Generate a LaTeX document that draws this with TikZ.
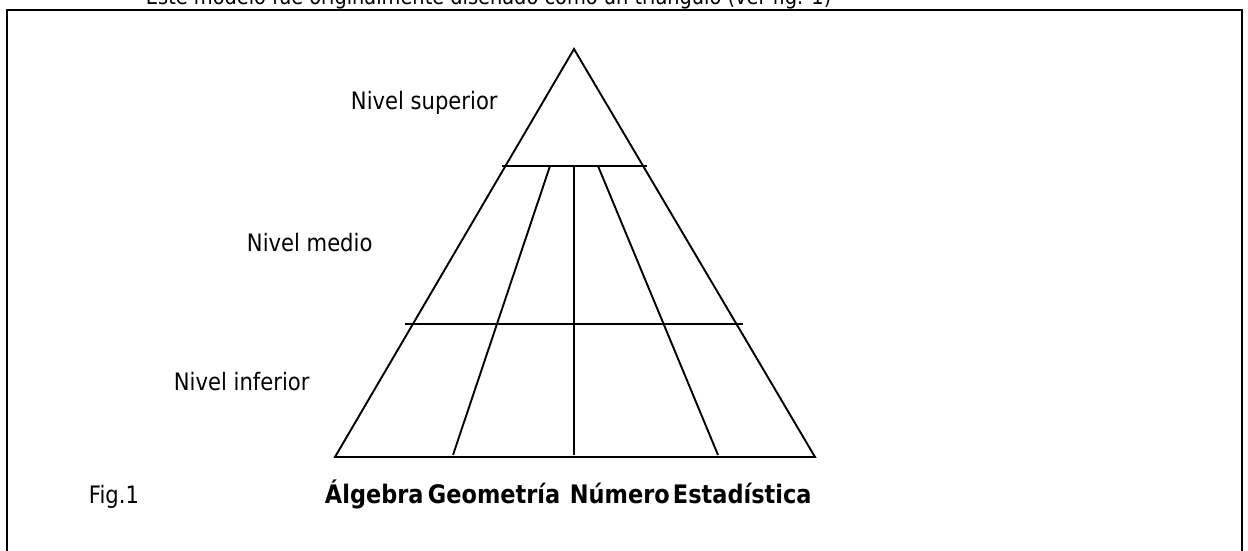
\documentclass[tikz,border=0pt]{standalone}
\usepackage{fontspec}
\setmainfont{DejaVu Sans}[FakeStretch=0.88]
\usetikzlibrary{calc}

\tikzset{
  nivel/.style={anchor=west,inner sep=0pt,font=\fontsize{24}{28}\selectfont},
  rama/.style={anchor=base west,inner sep=0pt,font=\fontsize{25.5}{30}\selectfont\bfseries}
}

\begin{document}
\begin{tikzpicture}[x=1pt,y=1pt,line width=1.9pt]
\useasboundingbox (0,0) rectangle (1248,551);
\node[anchor=base west,inner sep=0pt,font=\fontsize{22}{26}\selectfont] (intro) at (145,546)
  {Este modelo fue originalmente diseñado como un triángulo (ver fig. 1)};
\draw (7,-10) rectangle (1242,541);
% triangulo
\draw (574,502) coordinate (apex) -- (815,94) coordinate (br) --
(335,94) coordinate (bl) -- cycle;
\draw (502,385) coordinate (s1) -- (647,385) coordinate (s2);
\draw (405,227) coordinate (m1) -- (743,227) coordinate (m2);
% ramas
\draw (550,385) coordinate (a1) -- (453,96) coordinate (a2);
\draw (574,385) coordinate (c1) -- (574,96) coordinate (c2);
\draw (598,385) coordinate (e1) -- (718,96) coordinate (e2);
% textos
\node[nivel] (sup) at (350,448) {Nivel superior};
\node[nivel] (med) at (246,308) {Nivel medio};
\node[nivel] (inf) at (173,169) {Nivel inferior};
\node[nivel,anchor=base west] (fig) at (88,47) {Fig.1};
\node[rama] (alg) at (324,47) {Álgebra};
\node[rama] (geo) at (427,47) {Geometría};
\node[rama] (num) at (569,47) {Número};
\node[rama] (est) at (672,47) {Estadística};
\end{tikzpicture}
\end{document}
